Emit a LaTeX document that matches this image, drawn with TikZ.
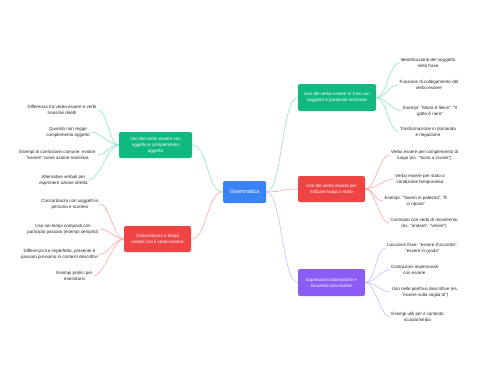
\documentclass[tikz,border=0pt]{standalone}
\usepackage{fontspec}
\setmainfont{Liberation Sans}
\usetikzlibrary{positioning}
\definecolor{mmblue}{HTML}{3B82F6}
\definecolor{mmgreen}{HTML}{10B981}
\definecolor{mmred}{HTML}{EF4444}
\definecolor{mmpurple}{HTML}{8B5CF6}
\definecolor{mmgreenl}{HTML}{8EE3C4}
\definecolor{mmredl}{HTML}{F9A8A8}
\definecolor{mmpurplel}{HTML}{C9BCFD}

\begin{document}
\begin{tikzpicture}[x=1pt,y=-1pt,
  box/.style={rounded corners=2pt,text=white,align=center,inner sep=1pt,font=\fontsize{4.5}{6}\selectfont},
  leaf/.style={align=center,inner sep=1pt,text=black!85,font=\fontsize{4.5}{6}\selectfont},
  link/.style={line width=0.6pt}]
  \fill[white] (0,0) rectangle (480,384);
  \useasboundingbox (0,0) rectangle (480,384);

  % centre
  \node[box,fill=mmblue,minimum width=43pt,minimum height=22pt,font=\fontsize{5.5}{7}\selectfont] (gram) at (244.5,192) {Grammatica};

  % main branches
  \node[box,fill=mmgreen,minimum width=78pt,minimum height=27pt] (frasi) at (337,97.5) {Uso del verbo essere in frasi con\\soggetto e predicato nominale};
  \node[box,fill=mmred,minimum width=67pt,minimum height=26pt] (luogo) at (331.5,189) {Uso del verbo essere per\\indicare luogo o stato};
  \node[box,fill=mmpurple,minimum width=67pt,minimum height=27pt] (idiom) at (331.5,282.5) {Espressioni idiomatiche e\\locuzioni con essere};
  \node[box,fill=mmgreen,minimum width=73pt,minimum height=26pt] (ogg) at (155.5,145) {Uso del verbo essere con\\oggetto e complemento\\oggetto};
  \node[box,fill=mmred,minimum width=67pt,minimum height=26pt] (conc) at (157.5,239) {Concordanza e tempi\\verbali con il verbo essere};

  % leaves right
  \node[leaf] (frasi1) at (428,63) {Identificazione del soggetto\\nella frase};
  \node[leaf] (frasi2) at (429,85) {Funzione di collegamento del\\verbo essere};
  \node[leaf] (frasi3) at (430,111) {Esempi: "Maria è felice", "Il\\gatto è nero"};
  \node[leaf] (frasi4) at (428,132) {Trasformazione in domanda\\e negazione};

  \node[leaf] (luogo1) at (424.5,155) {Verbo essere per complemento di\\luogo (es. "Sono a scuola")};
  \node[leaf] (luogo2) at (420,179) {Verbo essere per stato o\\condizione temporanea};
  \node[leaf] (luogo3) at (416,201) {Esempi: "Siamo in palestra", "È\\in riposo"};
  \node[leaf] (luogo4) at (424,223) {Contrasto con verbi di movimento\\(es. "andare", "venire")};

  \node[leaf] (idiom1) at (422.5,248) {Locuzioni fisse: "essere d'accordo",\\"essere in grado"};
  \node[leaf] (idiom2) at (414.5,270) {Costruzioni impersonali\\con essere};
  \node[leaf] (idiom3) at (425,292) {Uso nelle perifrasi descrittive (es.\\"essere sulla soglia di")};
  \node[leaf] (idiom4) at (417.5,317) {Esempi utili per il contesto\\scuola/media};

  % leaves left
  \node[leaf] (ogg1) at (62,110) {Differenza tra verbo essere e verbi\\transitivi diretti};
  \node[leaf] (ogg2) at (68,132) {Quando non regge\\complemento oggetto};
  \node[leaf] (ogg3) at (57.5,155) {Esempi di confusione comune: evitare\\"essere" come azione transitiva};
  \node[leaf] (ogg4) at (63.5,180) {Alternative verbali per\\esprimere azione diretta};

  \node[leaf] (conc1) at (70,204) {Concordanza con soggetti in\\persona e numero};
  \node[leaf] (conc2) at (63,229) {Uso nei tempi composti con\\participio passato (esempi semplici)};
  \node[leaf] (conc3) at (59.5,254.5) {Differenza tra imperfetto, presente e\\passato prossimo in contesti descrittivi};
  \node[leaf] (conc4) at (74.5,276) {Esempi pratici per\\esercitarsi};

  % links from the centre
  \draw[link,mmgreenl] (gram.east) .. controls +(16,0) and +(-16,0) .. (frasi.west);
  \draw[link,mmredl] (gram.east) .. controls +(16,0) and +(-16,0) .. (luogo.west);
  \draw[link,mmpurplel] (gram.east) .. controls +(16,0) and +(-16,0) .. (idiom.west);
  \draw[link,mmgreenl] (gram.west) .. controls +(-16,0) and +(16,0) .. (ogg.east);
  \draw[link,mmredl] (gram.west) .. controls +(-16,0) and +(16,0) .. (conc.east);

  % links to the leaves
  \foreach \n in {frasi1,frasi2,frasi3,frasi4}
    \draw[link,mmgreenl] (frasi.east) .. controls +(10,0) and +(-10,0) .. (\n.west);
  \foreach \n in {luogo1,luogo2,luogo3,luogo4}
    \draw[link,mmredl] (luogo.east) .. controls +(10,0) and +(-10,0) .. (\n.west);
  \foreach \n in {idiom1,idiom2,idiom3,idiom4}
    \draw[link,mmpurplel] (idiom.east) .. controls +(10,0) and +(-10,0) .. (\n.west);
  \foreach \n in {ogg1,ogg2,ogg3,ogg4}
    \draw[link,mmgreenl] (ogg.west) .. controls +(-10,0) and +(10,0) .. (\n.east);
  \foreach \n in {conc1,conc2,conc3,conc4}
    \draw[link,mmredl] (conc.west) .. controls +(-10,0) and +(10,0) .. (\n.east);
\end{tikzpicture}
\end{document}
